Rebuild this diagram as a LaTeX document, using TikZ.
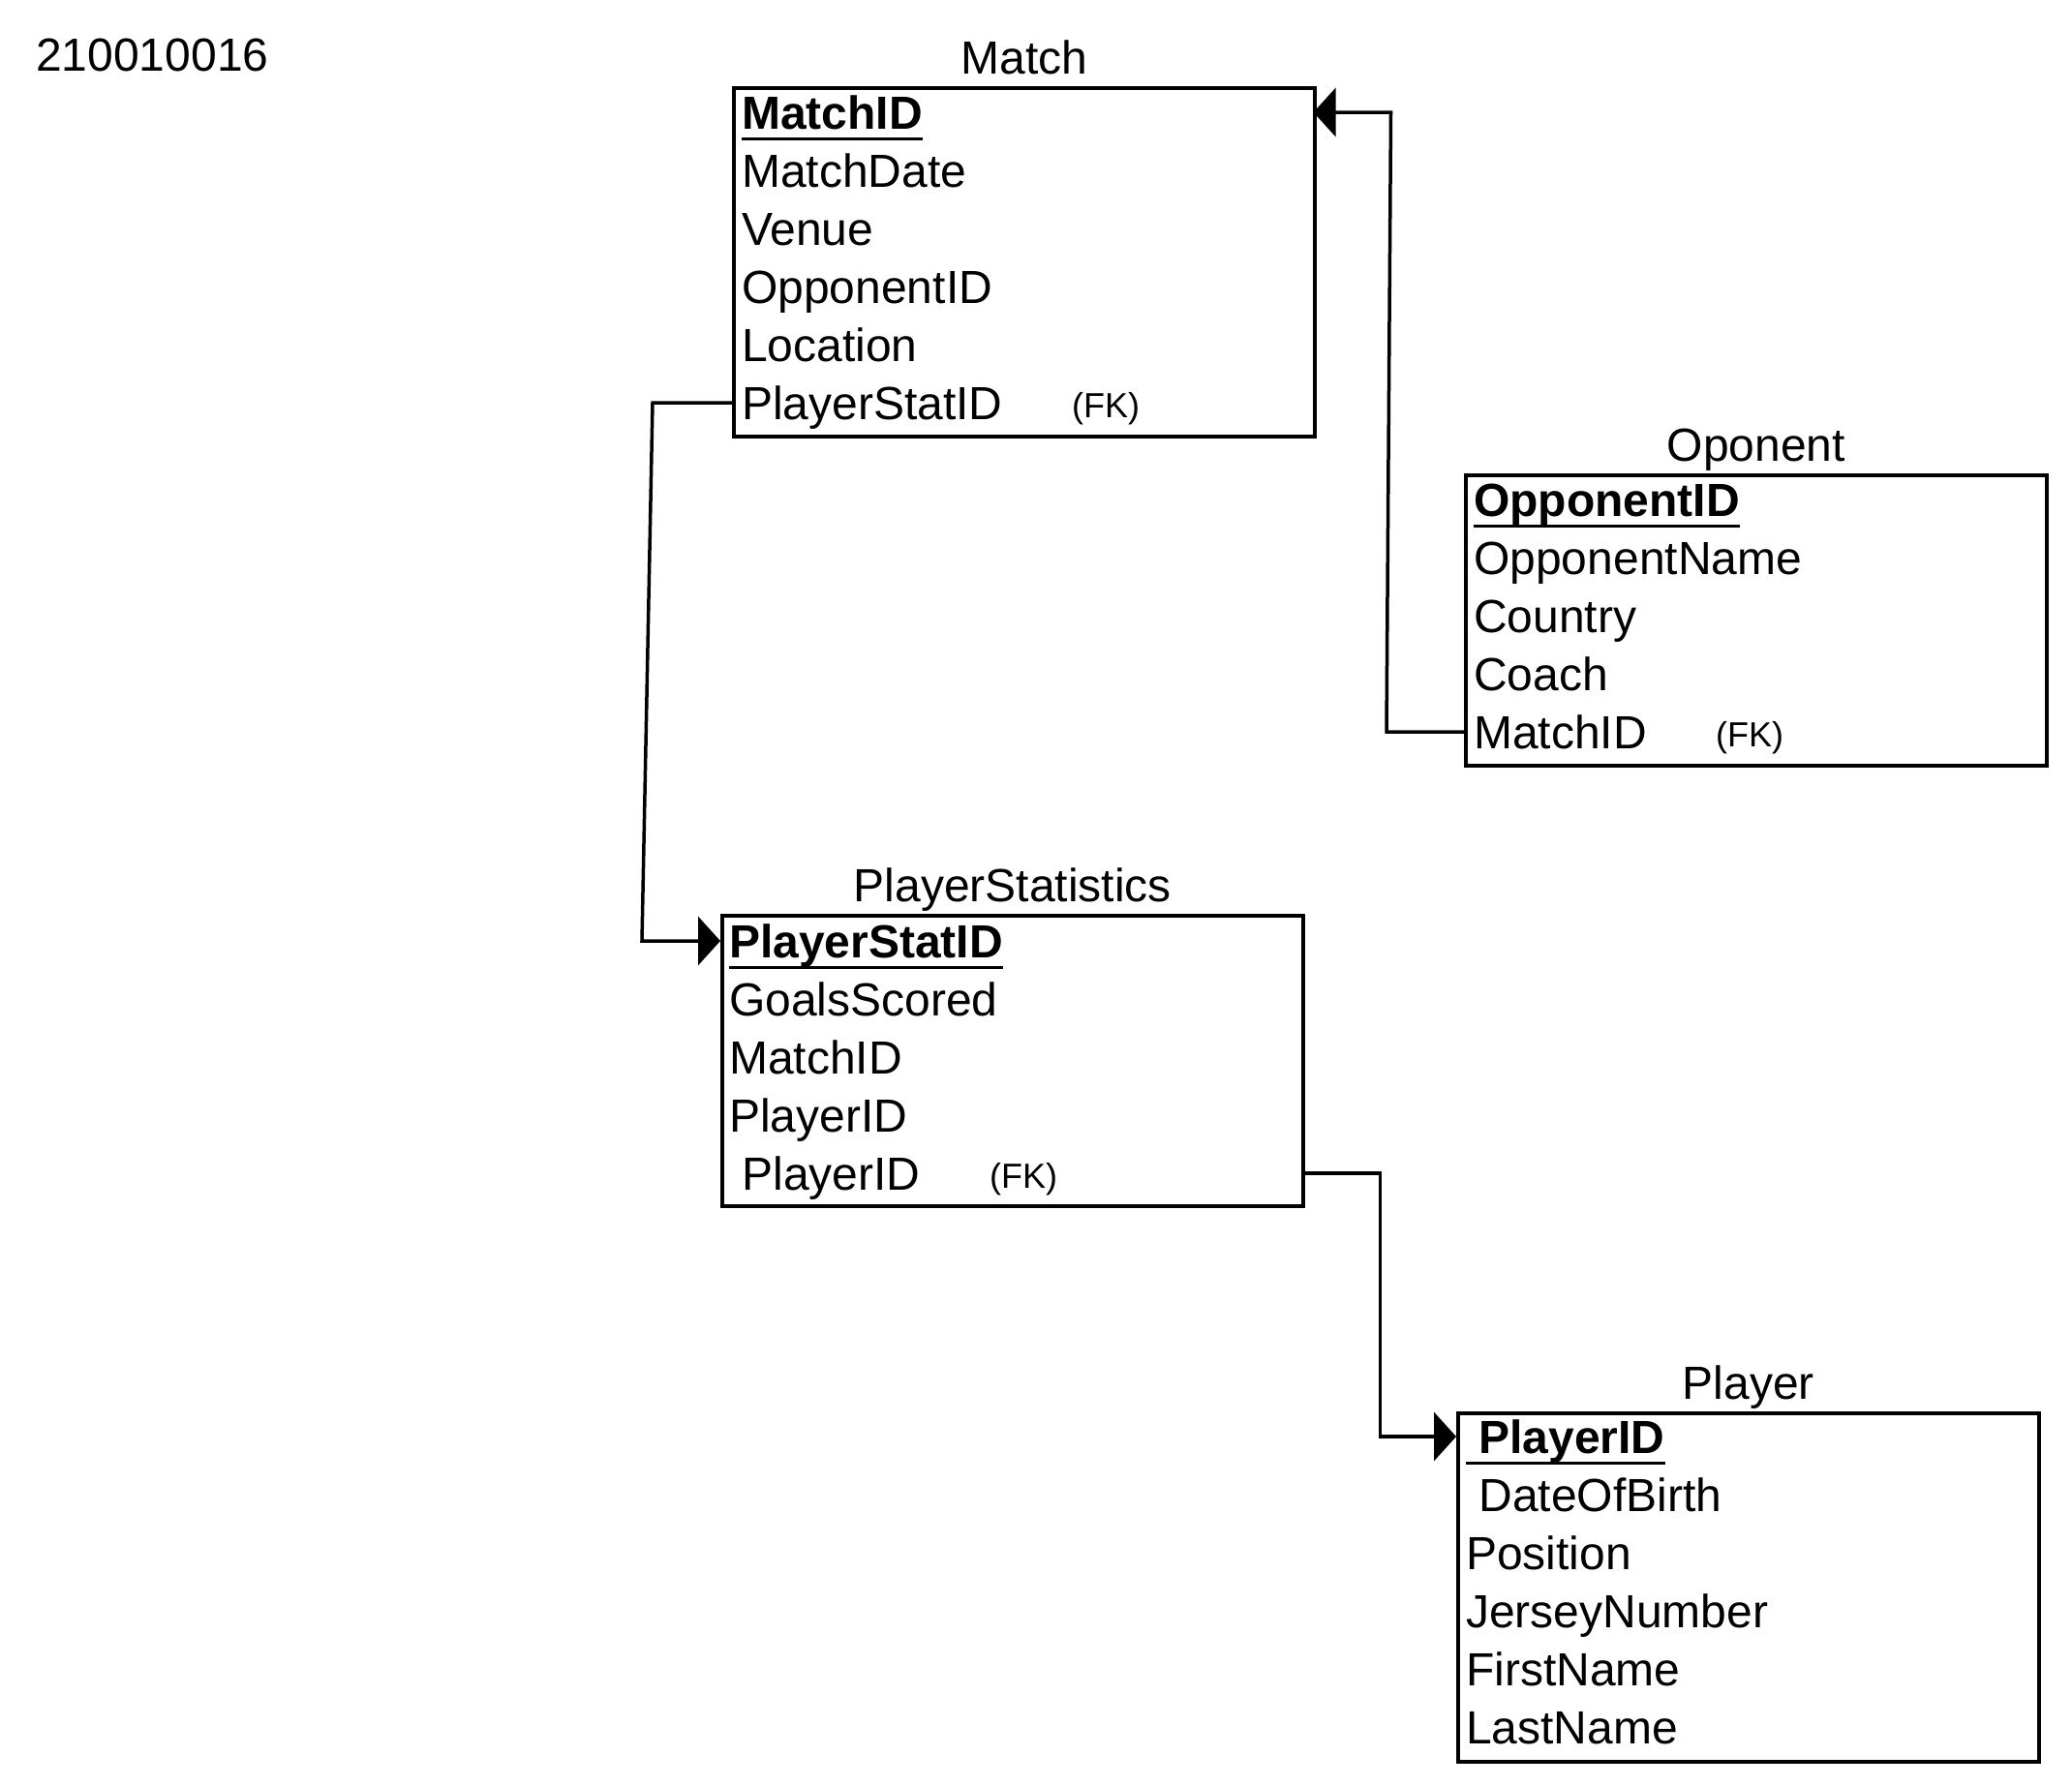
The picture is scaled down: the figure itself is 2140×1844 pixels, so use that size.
\documentclass[tikz,border=0pt]{standalone}
\usepackage{fontspec}
\setmainfont{Liberation Sans}
\usetikzlibrary{arrows.meta,calc}

\tikzset{
  tbl/.style={draw, line width=3.5pt, rectangle, inner sep=0pt,
    minimum width=600pt, anchor=north west},
  fld/.style={inner sep=0pt, anchor=west, text height=34.4pt, text depth=0pt,
    font=\fontsize{48}{58}\selectfont},
  pkfld/.style={fld, font=\fontsize{48}{58}\selectfont\bfseries},
  ttl/.style={inner sep=0pt, anchor=base, font=\fontsize{48}{58}\selectfont},
  fktag/.style={inner sep=0pt, anchor=west, text height=26pt, text depth=0pt,
    font=\fontsize{36}{40}\selectfont},
  pkline/.style={line width=3.5pt},
  fklink/.style={line width=3.5pt, -{Triangle[length=23pt,width=50pt]}},
}

\begin{document}
\begin{tikzpicture}[x=1pt,y=-1pt]
\useasboundingbox[fill=white] (0,0) rectangle (2140,1844);

% student number
\node[inner sep=0pt, anchor=base west, font=\fontsize{48}{58}\selectfont] (sid) at (37,74) {210010016};

% ---- Match ----
\node[tbl, minimum height=360pt] (match) at (756,89) {};
\node[ttl] (matchT) at ($(match.north)+(0,-13)$) {Match};
\node[pkfld] (m1) at (766,116) {MatchID};
\node[fld] (m2) at (766,176) {MatchDate};
\node[fld] (m3) at (766,236) {Venue};
\node[fld] (m4) at (766,296) {OpponentID};
\node[fld] (m5) at (766,356) {Location};
\node[fld] (m6) at (766,416) {PlayerStatID};
\node[fktag] (m6fk) at (1107,418) {(FK)};
\draw[pkline] ($(m1.south west)+(0,10)$) -- ($(m1.south east)+(0,10)$);

% ---- Oponent ----
\node[tbl, minimum height=300pt] (opp) at (1512,489) {};
\node[ttl] (oppT) at ($(opp.north)+(0,-13)$) {Oponent};
\node[pkfld] (o1) at (1522,516) {OpponentID};
\node[fld] (o2) at (1522,576) {OpponentName};
\node[fld] (o3) at (1522,636) {Country};
\node[fld] (o4) at (1522,696) {Coach};
\node[fld] (o5) at (1522,756) {MatchID};
\node[fktag] (o5fk) at (1772,758) {(FK)};
\draw[pkline] ($(o1.south west)+(0,10)$) -- ($(o1.south east)+(0,10)$);

% ---- PlayerStatistics ----
\node[tbl, minimum height=300pt] (ps) at (744,944) {};
\node[ttl] (psT) at ($(ps.north)+(0,-13)$) {PlayerStatistics};
\node[pkfld] (p1) at (753,972) {PlayerStatID};
\node[fld] (p2) at (753,1032) {GoalsScored};
\node[fld] (p3) at (753,1092) {MatchID};
\node[fld] (p4) at (753,1152) {PlayerID};
\node[fld] (p5) at (753,1212) {\ PlayerID};
\node[fktag] (p5fk) at (1022,1214) {(FK)};
\draw[pkline] ($(p1.south west)+(0,10)$) -- ($(p1.south east)+(0,10)$);

% ---- Player ----
\node[tbl, minimum height=360pt] (pl) at (1504,1458) {};
\node[ttl] (plT) at ($(pl.north)+(0,-13)$) {Player};
\node[pkfld] (l1) at (1514,1484) {\ PlayerID};
\node[fld] (l2) at (1514,1544) {\ DateOfBirth};
\node[fld] (l3) at (1514,1604) {Position};
\node[fld] (l4) at (1514,1664) {JerseyNumber};
\node[fld] (l5) at (1514,1724) {FirstName};
\node[fld] (l6) at (1514,1784) {LastName};
\draw[pkline] ($(l1.south west)+(0,10)$) -- ($(l1.south east)+(0,10)$);

% ---- foreign key links ----
\draw[fklink] (o5.west -| opp.west) -- ++(-80,0) -- ($(m1.west -| match.east)+(77,0)$) -- ($(m1.west -| match.east)+(-3,0)$);
\draw[fklink] (m6.west -| match.west) -- ++(-82,0) -- ($(p1.west -| ps.west)+(-81,0)$) -- (p1.west -| ps.west);
\draw[fklink] (p5.west -| ps.east) -- ++(78,0) |- (l1.west -| pl.west);
\end{tikzpicture}
\end{document}
